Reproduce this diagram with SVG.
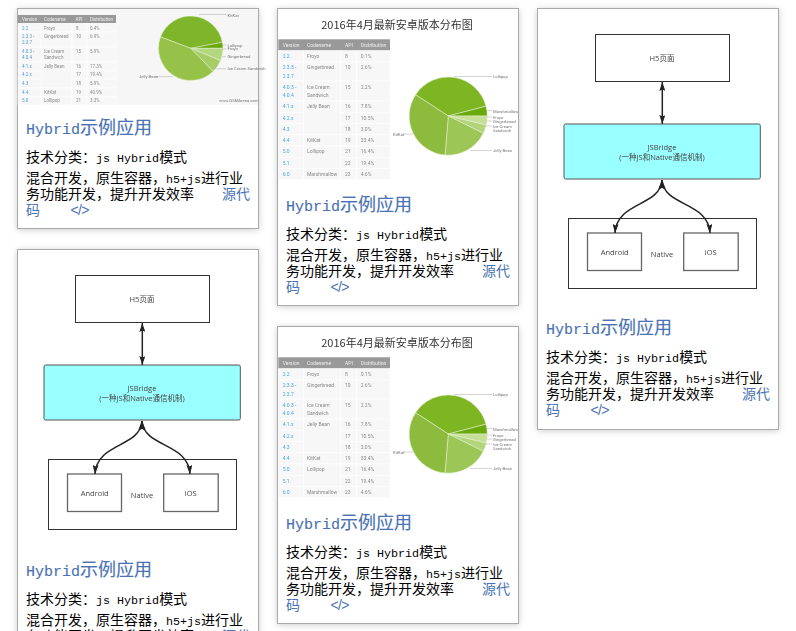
<svg xmlns="http://www.w3.org/2000/svg" width="796" height="631" viewBox="0 0 796 631">
<defs>
<filter id="shadow" x="-10%" y="-10%" width="120%" height="120%"><feDropShadow dx="0" dy="1" stdDeviation="3" flood-color="#000" flood-opacity="0.2"/></filter>
<filter id="soft" x="-5%" y="-5%" width="110%" height="110%"><feGaussianBlur stdDeviation="0.4"/></filter>
<marker id="head" viewBox="0 0 9 6" refX="9" refY="3" markerWidth="9" markerHeight="6" markerUnits="userSpaceOnUse" orient="auto-start-reverse"><path d="M0 0L9 3L0 6L1.5 3Z" fill="#222"/></marker>
<style>
text{font-family:"Noto Sans CJK SC",sans-serif}
.card{fill:#fff;stroke:#aaa;stroke-width:1;filter:url(#shadow)}
.soft{filter:url(#soft)}
.title{font-size:18px;fill:#4a72b5;stroke:#4a72b5;stroke-width:.15;font-family:"Noto Sans CJK SC",sans-serif}
.body{font-size:14px;fill:#000}
.link{font-size:14px;fill:#4a72b5}
.code{font-size:14px;fill:#4a72b5;font-family:"Liberation Sans",sans-serif}
.m{font-family:"Liberation Mono",monospace}
.t{font-family:Roboto,sans-serif;font-size:5px;fill:#8a8a8a}
.h{font-family:Roboto,sans-serif;font-size:5px;fill:#eee}
.l{font-family:Roboto,sans-serif;font-size:5px;fill:#4aa8e0}
.tt{font-family:Roboto,sans-serif;font-size:4.5px;fill:#8a8a8a}
.ht{font-family:Roboto,sans-serif;font-size:4.5px;fill:#eee}
.lt{font-family:Roboto,sans-serif;font-size:4.5px;fill:#5aa0d0}
.c{font-family:Roboto,sans-serif;font-size:4.2px;fill:#777}
.pl{stroke:#aaa;stroke-width:.5;fill:none}
.cell{fill:#f7f7f7;stroke:#fff;stroke-width:.6}
.hd{fill:#999}
.pie{stroke:#e8f2d8;stroke-width:.5}
.cap{font-size:11px;fill:#333;text-anchor:middle}
.box{fill:#fff;stroke:#333;stroke-width:1}
.inner{fill:#fff;stroke:#666;stroke-width:1.3}
.bridge{fill:#99ffff;stroke:#555;stroke-width:1}
.dl{font-family:"Open Sans","Noto Sans CJK SC",sans-serif;font-size:7.5px;fill:#444;text-anchor:middle}
.wire{fill:none;stroke:#222;stroke-width:1.5;marker-start:url(#head);marker-end:url(#head)}
</style>
</defs>
<rect width="796" height="631" fill="#fff"/>

<g id="card-1">
<rect class="card" x="17.5" y="8.5" width="241" height="220"/>
<g class="soft">
<rect x="18" y="9" width="240" height="96" fill="#f6f6f6"/>
<rect class="hd" x="18" y="15" width="98" height="8.3"/>
<rect class="cell" x="18" y="23.3" width="23" height="8.7"/><rect class="cell" x="41" y="23.3" width="31" height="8.7"/><rect class="cell" x="72" y="23.3" width="15" height="8.7"/><rect class="cell" x="87" y="23.3" width="29" height="8.7"/>
<rect class="cell" x="18" y="32" width="23" height="15"/><rect class="cell" x="41" y="32" width="31" height="15"/><rect class="cell" x="72" y="32" width="15" height="15"/><rect class="cell" x="87" y="32" width="29" height="15"/>
<rect class="cell" x="18" y="47" width="23" height="15"/><rect class="cell" x="41" y="47" width="31" height="15"/><rect class="cell" x="72" y="47" width="15" height="15"/><rect class="cell" x="87" y="47" width="29" height="15"/>
<rect class="cell" x="18" y="62" width="23" height="9"/><rect class="cell" x="41" y="62" width="31" height="26"/><rect class="cell" x="72" y="62" width="15" height="9"/><rect class="cell" x="87" y="62" width="29" height="9"/>
<rect class="cell" x="18" y="71" width="23" height="8"/><rect class="cell" x="72" y="71" width="15" height="8"/><rect class="cell" x="87" y="71" width="29" height="8"/>
<rect class="cell" x="18" y="79" width="23" height="9"/><rect class="cell" x="72" y="79" width="15" height="9"/><rect class="cell" x="87" y="79" width="29" height="9"/>
<rect class="cell" x="18" y="88" width="23" height="9"/><rect class="cell" x="41" y="88" width="31" height="9"/><rect class="cell" x="72" y="88" width="15" height="9"/><rect class="cell" x="87" y="88" width="29" height="9"/>
<rect class="cell" x="18" y="97" width="23" height="8"/><rect class="cell" x="41" y="97" width="31" height="8"/><rect class="cell" x="72" y="97" width="15" height="8"/><rect class="cell" x="87" y="97" width="29" height="8"/>
<text class="ht" x="22" y="21">Version</text><text class="ht" x="44" y="21">Codename</text><text class="ht" x="75.5" y="21">API</text><text class="ht" x="90" y="21">Distribution</text>
<text class="lt" x="22" y="29.6">2.2</text><text class="tt" x="44" y="29.6">Froyo</text><text class="tt" x="76" y="29.6">8</text><text class="tt" x="90" y="29.6">0.4%</text>
<text class="lt" x="22" y="38.2">2.3.3 -</text><text class="lt" x="22" y="44.2">2.3.7</text><text class="tt" x="44" y="38.2">Gingerbread</text><text class="tt" x="76" y="38.2">10</text><text class="tt" x="90" y="38.2">6.9%</text>
<text class="lt" x="22" y="53">4.0.3 -</text><text class="lt" x="22" y="59">4.0.4</text><text class="tt" x="44" y="53">Ice Cream</text><text class="tt" x="44" y="59">Sandwich</text><text class="tt" x="76" y="53">15</text><text class="tt" x="90" y="53">5.9%</text>
<text class="lt" x="22" y="67.6">4.1.x</text><text class="tt" x="44" y="67.6">Jelly Bean</text><text class="tt" x="76" y="67.6">16</text><text class="tt" x="90" y="67.6">17.3%</text>
<text class="lt" x="22" y="76.2">4.2.x</text><text class="tt" x="76" y="76.2">17</text><text class="tt" x="90" y="76.2">19.4%</text>
<text class="lt" x="22" y="84.8">4.3</text><text class="tt" x="76" y="84.8">18</text><text class="tt" x="90" y="84.8">5.9%</text>
<text class="lt" x="22" y="93.6">4.4</text><text class="tt" x="44" y="93.6">KitKat</text><text class="tt" x="76" y="93.6">19</text><text class="tt" x="90" y="93.6">40.9%</text>
<text class="lt" x="22" y="102.2">5.0</text><text class="tt" x="44" y="102.2">Lollipop</text><text class="tt" x="76" y="102.2">21</text><text class="tt" x="90" y="102.2">3.3%</text>
<path class="pie" fill="#7eb52a" d="M190.7 48.3L160.5 36.9A32.3 32.3 0 0 1 222.4 42.3Z"/>
<path class="pie" fill="#6aa90d" d="M190.7 48.3L222.4 42.3A32.3 32.3 0 0 1 223 48.3Z"/>
<path class="pie" fill="#b4d880" d="M190.7 48.3L223 48.3A32.3 32.3 0 0 1 220.6 60.5Z"/>
<path class="pie" fill="#a6ce68" d="M190.7 48.3L220.6 60.5A32.3 32.3 0 0 1 213.1 71.5Z"/>
<path class="pie" fill="#97c24a" d="M190.7 48.3L213.1 71.5A32.3 32.3 0 0 1 160.5 36.9Z"/>
<path class="pl" d="M199 14.5H226M223 45H226M222 49H226M222 56.8H226M214 68.8H226M155 76.7H173"/>
<text class="c" x="227.5" y="16.5">KitKat</text><text class="c" x="227.5" y="46.5">Lollipop</text><text class="c" x="227.5" y="50.2">Froyo</text><text class="c" x="227.5" y="58.2">Gingerbread</text><text class="c" x="227.5" y="70.4">Ice Cream Sandwich</text><text class="c" x="139" y="78.2">Jelly Bean</text><text class="c" x="219" y="102.3">www.GSMArena.com</text>
</g>
<text class="title" x="26" y="134"><tspan class="m" font-size="15">Hybrid</tspan>示例应用</text>
<text class="body" x="26" y="162">技术分类&#xFF1A;<tspan class="m" font-size="11.7">js Hybrid</tspan>模式</text>
<text class="body" x="26" y="183">混合开发&#xFF0C;原生容器&#xFF0C;<tspan class="m" font-size="11.7">h5+js</tspan>进行业</text>
<text class="body" x="26" y="199">务功能开发&#xFF0C;提升开发效率</text>
<text class="link" x="222" y="199">源代</text>
<text class="link" x="26" y="215">码</text>
<text class="code" x="70.5" y="214.5" textLength="19">&lt;/&gt;</text>
</g>

<g id="card-2">
<rect class="card" x="277.5" y="8.5" width="241" height="297"/>
<g class="soft">
<text class="cap" x="397" y="29">2016年4月最新安卓版本分布图</text>
<rect class="hd" x="278.3" y="39.3" width="111.7" height="11.4"/>
<rect class="cell" x="278.3" y="50.7" width="25" height="11.3"/><rect class="cell" x="303.3" y="50.7" width="37" height="11.3"/><rect class="cell" x="340.3" y="50.7" width="16.4" height="11.3"/><rect class="cell" x="356.7" y="50.7" width="33.3" height="11.3"/>
<rect class="cell" x="278.3" y="62" width="25" height="19"/><rect class="cell" x="303.3" y="62" width="37" height="19"/><rect class="cell" x="340.3" y="62" width="16.4" height="19"/><rect class="cell" x="356.7" y="62" width="33.3" height="19"/>
<rect class="cell" x="278.3" y="81" width="25" height="20"/><rect class="cell" x="303.3" y="81" width="37" height="20"/><rect class="cell" x="340.3" y="81" width="16.4" height="20"/><rect class="cell" x="356.7" y="81" width="33.3" height="20"/>
<rect class="cell" x="278.3" y="101" width="25" height="11.3"/><rect class="cell" x="303.3" y="101" width="37" height="33.7"/><rect class="cell" x="340.3" y="101" width="16.4" height="11.3"/><rect class="cell" x="356.7" y="101" width="33.3" height="11.3"/>
<rect class="cell" x="278.3" y="112.3" width="25" height="11"/><rect class="cell" x="340.3" y="112.3" width="16.4" height="11"/><rect class="cell" x="356.7" y="112.3" width="33.3" height="11"/>
<rect class="cell" x="278.3" y="123.3" width="25" height="11.4"/><rect class="cell" x="340.3" y="123.3" width="16.4" height="11.4"/><rect class="cell" x="356.7" y="123.3" width="33.3" height="11.4"/>
<rect class="cell" x="278.3" y="134.7" width="25" height="11.3"/><rect class="cell" x="303.3" y="134.7" width="37" height="11.3"/><rect class="cell" x="340.3" y="134.7" width="16.4" height="11.3"/><rect class="cell" x="356.7" y="134.7" width="33.3" height="11.3"/>
<rect class="cell" x="278.3" y="146" width="25" height="11.3"/><rect class="cell" x="303.3" y="146" width="37" height="22.7"/><rect class="cell" x="340.3" y="146" width="16.4" height="11.3"/><rect class="cell" x="356.7" y="146" width="33.3" height="11.3"/>
<rect class="cell" x="278.3" y="157.3" width="25" height="11.4"/><rect class="cell" x="340.3" y="157.3" width="16.4" height="11.4"/><rect class="cell" x="356.7" y="157.3" width="33.3" height="11.4"/>
<rect class="cell" x="278.3" y="168.7" width="25" height="11"/><rect class="cell" x="303.3" y="168.7" width="37" height="11"/><rect class="cell" x="340.3" y="168.7" width="16.4" height="11"/><rect class="cell" x="356.7" y="168.7" width="33.3" height="11"/>
<text class="h" x="282.7" y="46.8">Version</text><text class="h" x="307" y="46.8">Codename</text><text class="h" x="345" y="46.8">API</text><text class="h" x="360.7" y="46.8">Distribution</text>
<text class="l" x="282.7" y="57.8">2.2</text><text class="t" x="307" y="57.8">Froyo</text><text class="t" x="345" y="57.8">8</text><text class="t" x="360.7" y="57.8">0.1%</text>
<text class="l" x="282.7" y="68.8">2.3.3 -</text><text class="l" x="282.7" y="77.5">2.3.7</text><text class="t" x="307" y="68.8">Gingerbread</text><text class="t" x="345" y="68.8">10</text><text class="t" x="360.7" y="68.8">2.6%</text>
<text class="l" x="282.7" y="88.8">4.0.3 -</text><text class="l" x="282.7" y="96.5">4.0.4</text><text class="t" x="307" y="88.8">Ice Cream</text><text class="t" x="307" y="96.5">Sandwich</text><text class="t" x="345" y="88.8">15</text><text class="t" x="360.7" y="88.8">2.2%</text>
<text class="l" x="282.7" y="108.1">4.1.x</text><text class="t" x="307" y="108.1">Jelly Bean</text><text class="t" x="345" y="108.1">16</text><text class="t" x="360.7" y="108.1">7.8%</text>
<text class="l" x="282.7" y="119.5">4.2.x</text><text class="t" x="345" y="119.5">17</text><text class="t" x="360.7" y="119.5">10.5%</text>
<text class="l" x="282.7" y="130.8">4.3</text><text class="t" x="345" y="130.8">18</text><text class="t" x="360.7" y="130.8">3.0%</text>
<text class="l" x="282.7" y="141.8">4.4</text><text class="t" x="307" y="141.8">KitKat</text><text class="t" x="345" y="141.8">19</text><text class="t" x="360.7" y="141.8">33.4%</text>
<text class="l" x="282.7" y="153.1">5.0</text><text class="t" x="307" y="153.1">Lollipop</text><text class="t" x="345" y="153.1">21</text><text class="t" x="360.7" y="153.1">16.4%</text>
<text class="l" x="282.7" y="164.5">5.1</text><text class="t" x="345" y="164.5">22</text><text class="t" x="360.7" y="164.5">19.4%</text>
<text class="l" x="282.7" y="175.5">6.0</text><text class="t" x="307" y="175.5">Marshmallow</text><text class="t" x="345" y="175.5">23</text><text class="t" x="360.7" y="175.5">4.6%</text>
<path class="pie" fill="#7eb524" d="M448.3 116L415.6 94.7A39 39 0 0 1 486 106.2Z"/>
<path class="pie" fill="#6aa90d" d="M448.3 116L486 106.2A39 39 0 0 1 487.3 116Z"/>
<path class="pie" fill="#c5df97" d="M448.3 116L487.3 116A39 39 0 0 1 486.3 125Z"/>
<path class="pie" fill="#b2d57b" d="M448.3 116L486.3 125A39 39 0 0 1 483.3 133.3Z"/>
<path class="pie" fill="#9cc657" d="M448.3 116L483.3 133.3A39 39 0 0 1 445 155Z"/>
<path class="pie" fill="#8dbb3d" d="M448.3 116L445 155A39 39 0 0 1 415.6 94.7Z"/>
<path class="pl" d="M454 76.5H492M487 110.5H492M487 117H492M487 121H492M485 126H492M470 150.5H492M403 134H413"/>
<text class="c" x="493" y="78">Lollipop</text><text class="c" x="493" y="112.5">Marshmallow</text><text class="c" x="493" y="118.5">Froyo</text><text class="c" x="493" y="122.8">Gingerbread</text><text class="c" x="493" y="128">Ice Cream</text><text class="c" x="493" y="131.8">Sandwich</text><text class="c" x="493" y="152">Jelly Bean</text><text class="c" x="393" y="135.5">KitKat</text>
</g>
<text class="title" x="286" y="211"><tspan class="m" font-size="15">Hybrid</tspan>示例应用</text>
<text class="body" x="286" y="239">技术分类&#xFF1A;<tspan class="m" font-size="11.7">js Hybrid</tspan>模式</text>
<text class="body" x="286" y="260">混合开发&#xFF0C;原生容器&#xFF0C;<tspan class="m" font-size="11.7">h5+js</tspan>进行业</text>
<text class="body" x="286" y="276">务功能开发&#xFF0C;提升开发效率</text>
<text class="link" x="482" y="276">源代</text>
<text class="link" x="286" y="292">码</text>
<text class="code" x="330.5" y="291.5" textLength="19">&lt;/&gt;</text>
</g>

<g id="card-3">
<rect class="card" x="277.5" y="326.5" width="241" height="297"/>
<g class="soft" transform="translate(0 318)">
<text class="cap" x="397" y="29">2016年4月最新安卓版本分布图</text>
<rect class="hd" x="278.3" y="39.3" width="111.7" height="11.4"/>
<rect class="cell" x="278.3" y="50.7" width="25" height="11.3"/><rect class="cell" x="303.3" y="50.7" width="37" height="11.3"/><rect class="cell" x="340.3" y="50.7" width="16.4" height="11.3"/><rect class="cell" x="356.7" y="50.7" width="33.3" height="11.3"/>
<rect class="cell" x="278.3" y="62" width="25" height="19"/><rect class="cell" x="303.3" y="62" width="37" height="19"/><rect class="cell" x="340.3" y="62" width="16.4" height="19"/><rect class="cell" x="356.7" y="62" width="33.3" height="19"/>
<rect class="cell" x="278.3" y="81" width="25" height="20"/><rect class="cell" x="303.3" y="81" width="37" height="20"/><rect class="cell" x="340.3" y="81" width="16.4" height="20"/><rect class="cell" x="356.7" y="81" width="33.3" height="20"/>
<rect class="cell" x="278.3" y="101" width="25" height="11.3"/><rect class="cell" x="303.3" y="101" width="37" height="33.7"/><rect class="cell" x="340.3" y="101" width="16.4" height="11.3"/><rect class="cell" x="356.7" y="101" width="33.3" height="11.3"/>
<rect class="cell" x="278.3" y="112.3" width="25" height="11"/><rect class="cell" x="340.3" y="112.3" width="16.4" height="11"/><rect class="cell" x="356.7" y="112.3" width="33.3" height="11"/>
<rect class="cell" x="278.3" y="123.3" width="25" height="11.4"/><rect class="cell" x="340.3" y="123.3" width="16.4" height="11.4"/><rect class="cell" x="356.7" y="123.3" width="33.3" height="11.4"/>
<rect class="cell" x="278.3" y="134.7" width="25" height="11.3"/><rect class="cell" x="303.3" y="134.7" width="37" height="11.3"/><rect class="cell" x="340.3" y="134.7" width="16.4" height="11.3"/><rect class="cell" x="356.7" y="134.7" width="33.3" height="11.3"/>
<rect class="cell" x="278.3" y="146" width="25" height="11.3"/><rect class="cell" x="303.3" y="146" width="37" height="22.7"/><rect class="cell" x="340.3" y="146" width="16.4" height="11.3"/><rect class="cell" x="356.7" y="146" width="33.3" height="11.3"/>
<rect class="cell" x="278.3" y="157.3" width="25" height="11.4"/><rect class="cell" x="340.3" y="157.3" width="16.4" height="11.4"/><rect class="cell" x="356.7" y="157.3" width="33.3" height="11.4"/>
<rect class="cell" x="278.3" y="168.7" width="25" height="11"/><rect class="cell" x="303.3" y="168.7" width="37" height="11"/><rect class="cell" x="340.3" y="168.7" width="16.4" height="11"/><rect class="cell" x="356.7" y="168.7" width="33.3" height="11"/>
<text class="h" x="282.7" y="46.8">Version</text><text class="h" x="307" y="46.8">Codename</text><text class="h" x="345" y="46.8">API</text><text class="h" x="360.7" y="46.8">Distribution</text>
<text class="l" x="282.7" y="57.8">2.2</text><text class="t" x="307" y="57.8">Froyo</text><text class="t" x="345" y="57.8">8</text><text class="t" x="360.7" y="57.8">0.1%</text>
<text class="l" x="282.7" y="68.8">2.3.3 -</text><text class="l" x="282.7" y="77.5">2.3.7</text><text class="t" x="307" y="68.8">Gingerbread</text><text class="t" x="345" y="68.8">10</text><text class="t" x="360.7" y="68.8">2.6%</text>
<text class="l" x="282.7" y="88.8">4.0.3 -</text><text class="l" x="282.7" y="96.5">4.0.4</text><text class="t" x="307" y="88.8">Ice Cream</text><text class="t" x="307" y="96.5">Sandwich</text><text class="t" x="345" y="88.8">15</text><text class="t" x="360.7" y="88.8">2.2%</text>
<text class="l" x="282.7" y="108.1">4.1.x</text><text class="t" x="307" y="108.1">Jelly Bean</text><text class="t" x="345" y="108.1">16</text><text class="t" x="360.7" y="108.1">7.8%</text>
<text class="l" x="282.7" y="119.5">4.2.x</text><text class="t" x="345" y="119.5">17</text><text class="t" x="360.7" y="119.5">10.5%</text>
<text class="l" x="282.7" y="130.8">4.3</text><text class="t" x="345" y="130.8">18</text><text class="t" x="360.7" y="130.8">3.0%</text>
<text class="l" x="282.7" y="141.8">4.4</text><text class="t" x="307" y="141.8">KitKat</text><text class="t" x="345" y="141.8">19</text><text class="t" x="360.7" y="141.8">33.4%</text>
<text class="l" x="282.7" y="153.1">5.0</text><text class="t" x="307" y="153.1">Lollipop</text><text class="t" x="345" y="153.1">21</text><text class="t" x="360.7" y="153.1">16.4%</text>
<text class="l" x="282.7" y="164.5">5.1</text><text class="t" x="345" y="164.5">22</text><text class="t" x="360.7" y="164.5">19.4%</text>
<text class="l" x="282.7" y="175.5">6.0</text><text class="t" x="307" y="175.5">Marshmallow</text><text class="t" x="345" y="175.5">23</text><text class="t" x="360.7" y="175.5">4.6%</text>
<path class="pie" fill="#7eb524" d="M448.3 116L415.6 94.7A39 39 0 0 1 486 106.2Z"/>
<path class="pie" fill="#6aa90d" d="M448.3 116L486 106.2A39 39 0 0 1 487.3 116Z"/>
<path class="pie" fill="#c5df97" d="M448.3 116L487.3 116A39 39 0 0 1 486.3 125Z"/>
<path class="pie" fill="#b2d57b" d="M448.3 116L486.3 125A39 39 0 0 1 483.3 133.3Z"/>
<path class="pie" fill="#9cc657" d="M448.3 116L483.3 133.3A39 39 0 0 1 445 155Z"/>
<path class="pie" fill="#8dbb3d" d="M448.3 116L445 155A39 39 0 0 1 415.6 94.7Z"/>
<path class="pl" d="M454 76.5H492M487 110.5H492M487 117H492M487 121H492M485 126H492M470 150.5H492M403 134H413"/>
<text class="c" x="493" y="78">Lollipop</text><text class="c" x="493" y="112.5">Marshmallow</text><text class="c" x="493" y="118.5">Froyo</text><text class="c" x="493" y="122.8">Gingerbread</text><text class="c" x="493" y="128">Ice Cream</text><text class="c" x="493" y="131.8">Sandwich</text><text class="c" x="493" y="152">Jelly Bean</text><text class="c" x="393" y="135.5">KitKat</text>
</g>
<text class="title" x="286" y="529"><tspan class="m" font-size="15">Hybrid</tspan>示例应用</text>
<text class="body" x="286" y="557">技术分类&#xFF1A;<tspan class="m" font-size="11.7">js Hybrid</tspan>模式</text>
<text class="body" x="286" y="578">混合开发&#xFF0C;原生容器&#xFF0C;<tspan class="m" font-size="11.7">h5+js</tspan>进行业</text>
<text class="body" x="286" y="594">务功能开发&#xFF0C;提升开发效率</text>
<text class="link" x="482" y="594">源代</text>
<text class="link" x="286" y="610">码</text>
<text class="code" x="330.5" y="609.5" textLength="19">&lt;/&gt;</text>
</g>

<g id="card-4">
<rect class="card" x="537.5" y="8.5" width="241" height="421"/>
<g class="soft">
<g id="c4-h5"><rect class="box" x="595.5" y="34.5" width="134" height="47"/><text class="dl" x="662" y="61">H5页面</text></g>
<g id="c4-bridge"><rect class="bridge" x="564" y="124" width="196.3" height="55" rx="1.5"/><text class="dl" x="662" y="150">JSBridge</text><text class="dl" x="662" y="159.5">(一种JS和Native通信机制)</text></g>
<g id="c4-native"><rect class="box" x="568.5" y="218.5" width="188" height="70"/><text class="dl" x="662" y="256.5">Native</text></g>
<g id="c4-android"><rect class="inner" x="587.5" y="233" width="54" height="37.5"/><text class="dl" x="614.7" y="255">Android</text></g>
<g id="c4-ios"><rect class="inner" x="683.7" y="233" width="54.5" height="37.5"/><text class="dl" x="710.7" y="255">iOS</text></g>
<g id="c4-connectors">
<path class="wire" d="M662.3 82V124"/>
<path class="wire" d="M662 180C660 207 617 201 615 233"/>
<path class="wire" d="M662 180C664 207 708 201 710 233"/>
</g>
</g>
<text class="title" x="546" y="334"><tspan class="m" font-size="15">Hybrid</tspan>示例应用</text>
<text class="body" x="546" y="362">技术分类&#xFF1A;<tspan class="m" font-size="11.7">js Hybrid</tspan>模式</text>
<text class="body" x="546" y="383">混合开发&#xFF0C;原生容器&#xFF0C;<tspan class="m" font-size="11.7">h5+js</tspan>进行业</text>
<text class="body" x="546" y="399">务功能开发&#xFF0C;提升开发效率</text>
<text class="link" x="742" y="399">源代</text>
<text class="link" x="546" y="415">码</text>
<text class="code" x="590.5" y="414.5" textLength="19">&lt;/&gt;</text>
</g>

<g id="card-5">
<rect class="card" x="17.5" y="249.5" width="241" height="400"/>
<g class="soft" transform="translate(-520 241)">
<g id="c5-h5"><rect class="box" x="595.5" y="34.5" width="134" height="47"/><text class="dl" x="662" y="61">H5页面</text></g>
<g id="c5-bridge"><rect class="bridge" x="564" y="124" width="196.3" height="55" rx="1.5"/><text class="dl" x="662" y="150">JSBridge</text><text class="dl" x="662" y="159.5">(一种JS和Native通信机制)</text></g>
<g id="c5-native"><rect class="box" x="568.5" y="218.5" width="188" height="70"/><text class="dl" x="662" y="256.5">Native</text></g>
<g id="c5-android"><rect class="inner" x="587.5" y="233" width="54" height="37.5"/><text class="dl" x="614.7" y="255">Android</text></g>
<g id="c5-ios"><rect class="inner" x="683.7" y="233" width="54.5" height="37.5"/><text class="dl" x="710.7" y="255">iOS</text></g>
<g id="c5-connectors">
<path class="wire" d="M662.3 82V124"/>
<path class="wire" d="M662 180C660 207 617 201 615 233"/>
<path class="wire" d="M662 180C664 207 708 201 710 233"/>
</g>
</g>
<text class="title" x="26" y="576"><tspan class="m" font-size="15">Hybrid</tspan>示例应用</text>
<text class="body" x="26" y="604">技术分类&#xFF1A;<tspan class="m" font-size="11.7">js Hybrid</tspan>模式</text>
<text class="body" x="26" y="625">混合开发&#xFF0C;原生容器&#xFF0C;<tspan class="m" font-size="11.7">h5+js</tspan>进行业</text>
<text class="body" x="26" y="641">务功能开发&#xFF0C;提升开发效率</text>
<text class="link" x="222" y="641">源代</text>
</g>
</svg>
